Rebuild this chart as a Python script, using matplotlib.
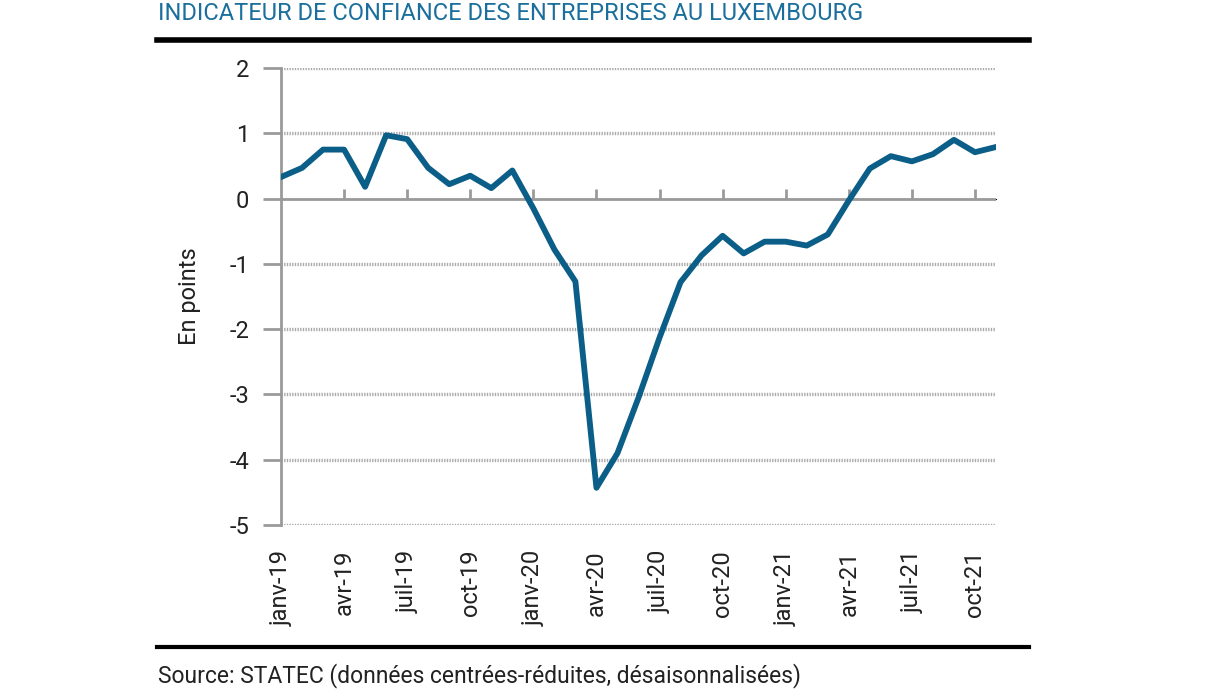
import matplotlib
matplotlib.use('Agg')
import matplotlib.pyplot as plt
from matplotlib.lines import Line2D

# monthly values, janv-19 .. nov-21
values = [0.33, 0.47, 0.75, 0.75, 0.18, 0.97, 0.91, 0.47, 0.22, 0.35, 0.16, 0.43,
          -0.15, -0.78, -1.27, -4.43, -3.90, -3.05, -2.13, -1.28, -0.87, -0.57, -0.84, -0.66,
          -0.66, -0.72, -0.55, -0.03, 0.46, 0.65, 0.57, 0.68, 0.90, 0.71, 0.79]
tick_labels = ['janv-19', 'avr-19', 'juil-19', 'oct-19', 'janv-20', 'avr-20',
               'juil-20', 'oct-20', 'janv-21', 'avr-21', 'juil-21', 'oct-21']
y_ticks = [2, 1, 0, -1, -2, -3, -4, -5]

plt.rcParams['font.family'] = ['Roboto', 'DejaVu Sans']

blue = '#0b5e87'
grey = '#9a9a9a'

fig = plt.figure(figsize=(12.24, 6.89), dpi=100)
ax = fig.add_axes([281 / 1224, 1 - 525 / 689, (996 - 281) / 1224, (525 - 68) / 689])

x = list(range(len(values)))
ax.plot(x, values, color=blue, linewidth=4.2, solid_joinstyle='round', zorder=3)

ax.set_xlim(0, len(values) - 1)
ax.set_ylim(-5, 2)

# dotted grid + solid zero line
for v in y_ticks:
    if v == 0:
        ax.axhline(v, color=grey, linewidth=2, zorder=2)
    else:
        ax.axhline(v, color='#a8a8a8', linewidth=2.4, linestyle=(0, (0.4, 0.4)), zorder=1)

for s in ['top', 'right', 'bottom']:
    ax.spines[s].set_visible(False)
ax.spines['left'].set_color(grey)
ax.spines['left'].set_linewidth(2)

ax.set_yticks(y_ticks)
ax.set_yticklabels([str(v) if v >= 0 else '-' + str(-v) for v in y_ticks])
ax.tick_params(axis='y', length=13, width=2, color=grey, labelsize=17, pad=10, labelcolor='#222222')

ticks = list(range(0, len(values), 3))
ax.set_xticks(ticks)
ax.set_xticklabels(tick_labels, rotation=90, fontsize=17, color='#222222')
ax.tick_params(axis='x', length=0, pad=18)

# tick marks on zero line
sec = ax.secondary_xaxis(5 / 7)
sec.set_xticks(ticks[1:])
sec.set_xticklabels([])
sec.spines['bottom'].set_visible(False)
sec.tick_params(axis='x', direction='out', length=7, width=2, color=grey)

ax.set_ylabel('En points', fontsize=17, labelpad=20, color='#222222')

fig.text(158 / 1224, 1 - 13 / 689, 'INDICATEUR DE CONFIANCE DES ENTREPRISES AU LUXEMBOURG',
         color='#1b6f9c', fontsize=17, va='center', ha='left')
fig.add_artist(Line2D([157 / 1224, 1029 / 1224], [1 - 40 / 689, 1 - 40 / 689],
                      color='black', linewidth=4))
fig.add_artist(Line2D([157 / 1224, 1029 / 1224], [1 - 647 / 689, 1 - 647 / 689],
                      color='black', linewidth=3))
fig.text(158 / 1224, 1 - 676 / 689, 'Source: STATEC (données centrées-réduites, désaisonnalisées)',
         color='#222222', fontsize=16.5, va='center', ha='left')

fig.savefig('out.png', dpi=100)
